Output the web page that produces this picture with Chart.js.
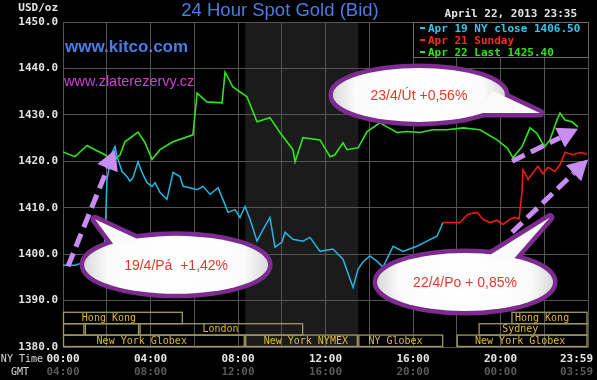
<!DOCTYPE html>
<html>
<head>
<meta charset="utf-8">
<script src="https://cdn.jsdelivr.net/npm/chart.js@4.4.1/dist/chart.umd.min.js"></script>
<style>
  html, body { margin: 0; padding: 0; background: #000; }
</style>
</head>
<body>
<canvas id="chart" width="597" height="380"></canvas>
<script>
// x = hours of the day (NY time), y = USD/oz

const seriesNames = ['Apr 19 NY close 1406.50', 'Apr 21 Sunday', 'Apr 22 Last 1425.40'];

const apr19Hours = [0, 0.55, 1.01, 1.46, 1.83, 1.92, 2.01, 2.24, 2.38, 2.47, 2.70, 2.93, 3.06, 3.20, 3.43, 3.61,
  3.84, 4.07, 4.21, 4.43, 4.75, 5.03, 5.35, 5.49, 5.81, 6.13, 6.40, 6.72, 7.09, 7.31, 7.54, 7.86, 8.09, 8.32,
  8.55, 8.87, 9.10, 9.46, 9.69, 10.01, 10.15, 10.51, 10.97, 11.29, 11.75, 12.34, 12.80, 13.26, 13.49, 13.71,
  14.03, 14.35, 14.63, 15.09, 15.54, 16.18, 16.64, 17.10, 17.37];
const apr19Prices = [1397.6, 1397.6, 1398.3, 1397.8, 1398.3, 1403.2, 1416.1, 1421.9, 1423.2, 1421.0, 1417.8,
  1416.7, 1415.7, 1416.5, 1419.9, 1417.6, 1415.4, 1414.6, 1415.4, 1413.3, 1411.8, 1417.6, 1416.7, 1414.6, 1414.3,
  1413.9, 1414.6, 1412.9, 1414.3, 1411.8, 1409.0, 1409.6, 1407.9, 1410.3, 1407.5, 1402.8, 1404.9, 1407.9, 1401.5,
  1402.6, 1404.7, 1403.2, 1402.8, 1403.6, 1400.6, 1401.1, 1398.9, 1392.8, 1396.8, 1398.3, 1399.6, 1398.5, 1397.2,
  1401.7, 1400.6, 1401.7, 1402.8, 1403.9, 1406.8];

const apr21Hours = [17.37, 18.15, 18.51, 18.93, 19.20, 19.52, 19.84, 20.11, 20.43, 20.66, 20.85, 20.98, 21.03,
  21.26, 21.49, 21.71, 21.94, 22.17, 22.49, 22.72, 22.95, 23.31, 23.63, 23.95];
const apr21Prices = [1406.8, 1406.8, 1408.6, 1409.0, 1407.5, 1406.8, 1407.3, 1406.4, 1407.5, 1407.9, 1407.6,
  1413.3, 1418.2, 1416.1, 1417.6, 1418.9, 1417.3, 1418.7, 1417.8, 1419.3, 1421.9, 1421.4, 1421.9, 1421.6];

const apr22Hours = [0, 0.55, 1.10, 1.46, 1.92, 2.29, 2.61, 2.83, 3.43, 3.75, 4.07, 4.43, 5.03, 5.94, 6.13, 6.58,
  7.27, 7.41, 7.77, 8.41, 8.87, 9.46, 9.92, 10.51, 10.61, 10.97, 11.75, 12.21, 12.43, 12.80, 12.98, 13.49, 13.90,
  14.49, 14.81, 15.27, 15.73, 16.32, 16.91, 17.55, 18.29, 19.06, 19.84, 20.30, 20.57, 20.98, 21.35, 21.67, 21.90,
  22.03, 22.26, 22.58, 22.72, 22.95, 23.27, 23.54];
const apr22Prices = [1422.0, 1421.0, 1423.4, 1422.5, 1421.4, 1419.9, 1421.4, 1424.2, 1426.3, 1424.0, 1420.4,
  1422.5, 1424.2, 1425.7, 1434.7, 1432.8, 1432.6, 1439.2, 1436.0, 1433.9, 1428.5, 1429.4, 1426.2, 1422.5, 1419.9,
  1425.1, 1424.6, 1421.0, 1421.4, 1424.0, 1422.5, 1422.9, 1426.4, 1428.3, 1427.4, 1426.2, 1426.4, 1426.2, 1426.8,
  1426.8, 1427.2, 1426.8, 1424.6, 1422.9, 1420.8, 1423.1, 1427.2, 1426.0, 1424.0, 1423.2, 1424.6, 1428.9, 1430.4,
  1428.9, 1428.5, 1427.4];

// axis labels
const tickHours = [0, 4, 8, 12, 16, 20, 24];
const nyTimeLabels = ['00:00', '04:00', '08:00', '12:00', '16:00', '20:00', '23:59'];
const gmtLabels = ['04:00', '08:00', '12:00', '16:00', '20:00', '00:00', '03:59'];

// COMEX floor hours (shaded)
const comexOpen = 8.33;
const comexClose = 13.5;

// market sessions strip
const sessionNames = ['Hong Kong', '', '', 'London', 'New York Globex', 'New York NYMEX', 'NY Globex',
  'New York Globex', 'Sydney', 'Hong Kong'];
const sessionRows = [0, 1, 1, 1, 2, 2, 2, 2, 1, 0];
const sessionStart = [0, 0, 1, 3.5, 0, 8.33, 13.5, 18, 19, 20.5];
const sessionEnd = [5.5, 1, 3.5, 11, 8.33, 13.5, 17.4, 24, 24, 24];
const sessionLabelAt = [2.1, 0.5, 2.25, 7.2, 3.6, 11.1, 15.2, 20.9, 20.9, 21.9];

// callouts added on top of the chart
const calloutTexts = ['19/4/Pá  +1,42%', '23/4/Út +0,56%', '22/4/Po + 0,85%'];
const calloutHour = [5.17, 16.27, 18.38];
const calloutPrice = [1397.7, 1434.3, 1394.0];
const calloutTipHour = [1.46, 21.8, 22.26];
const calloutTipPrice = [1407.5, 1430.4, 1407.9];

const arrowFromHour = [0.23, 20.53, 20.53];
const arrowFromPrice = [1397.4, 1420.0, 1404.7];
const arrowToHour = [2.38, 23.54, 24.0];
const arrowToPrice = [1422.5, 1427.0, 1420.4];

function toPoints(hours, prices) {
  return hours.map((h, i) => ({ x: h, y: prices[i] }));
}

const MONO = '"DejaVu Sans Mono", monospace';
const SANS = '"Liberation Sans", Arial, sans-serif';
const gridColor = '#545454';

// bubble outline sizes (px) and tail base offsets from the centre
const bubbleShapes = [
  { rx: 92, ry: 29, b1: [-35, -24], b2: [-60, -17] },
  { rx: 86, ry: 27, b1: [74, -4], b2: [56, 18] },
  { rx: 88, ry: 29, b1: [20, -24], b2: [46, -20] }
];

function drawBubble(ctx, cx, cy, shape, tx, ty, text) {
  const { rx, ry, b1, b2 } = shape;
  const tail = () => {
    ctx.beginPath();
    ctx.moveTo(cx + b1[0], cy + b1[1]);
    ctx.lineTo(tx, ty);
    ctx.lineTo(cx + b2[0], cy + b2[1]);
    ctx.closePath();
  };
  const oval = () => {
    ctx.beginPath();
    ctx.ellipse(cx, cy, rx, ry, 0, 0, Math.PI * 2);
  };
  ctx.save();
  ctx.lineJoin = 'round';
  ctx.strokeStyle = '#7c2b8e';
  ctx.lineWidth = 9;
  oval(); ctx.stroke();
  tail(); ctx.stroke();
  const g = ctx.createRadialGradient(cx, cy - ry * 0.3, 0, cx, cy, rx);
  g.addColorStop(0, '#ffffff');
  g.addColorStop(0.75, '#fbfbfb');
  g.addColorStop(1, '#d9d9d9');
  ctx.fillStyle = g;
  oval(); ctx.fill();
  ctx.fillStyle = '#fafafa';
  tail(); ctx.fill();
  ctx.fillStyle = '#e23a28';
  ctx.font = '14px ' + SANS;
  ctx.textAlign = 'center';
  ctx.textBaseline = 'middle';
  ctx.fillText(text, cx, cy + 1);
  ctx.restore();
}

function drawArrow(ctx, xa, ya, xb, yb) {
  const ang = Math.atan2(yb - ya, xb - xa);
  const headLen = 20, headW = 11;
  const bx = xb - headLen * Math.cos(ang);
  const by = yb - headLen * Math.sin(ang);
  ctx.save();
  ctx.strokeStyle = '#c98cf2';
  ctx.fillStyle = '#c98cf2';
  ctx.lineWidth = 5;
  ctx.setLineDash([14, 7]);
  ctx.beginPath();
  ctx.moveTo(xa, ya);
  ctx.lineTo(bx, by);
  ctx.stroke();
  ctx.setLineDash([]);
  ctx.beginPath();
  ctx.moveTo(xb, yb);
  ctx.lineTo(bx + headW * Math.sin(ang), by - headW * Math.cos(ang));
  ctx.lineTo(bx - headW * Math.sin(ang), by + headW * Math.cos(ang));
  ctx.closePath();
  ctx.fill();
  ctx.restore();
}

const kitcoPlugin = {
  id: 'kitco',
  beforeDraw(chart) {
    const { ctx, chartArea: a, scales: { x } } = chart;
    ctx.save();
    ctx.fillStyle = '#000';
    ctx.fillRect(0, 0, chart.width, chart.height);
    const x0 = x.getPixelForValue(comexOpen);
    const x1 = x.getPixelForValue(comexClose);
    ctx.fillStyle = '#1b1b1b';
    ctx.fillRect(x0, a.top, x1 - x0, a.bottom - a.top);
    ctx.restore();
  },
  afterDatasetsDraw(chart) {
    const { ctx, chartArea: a, scales: { x } } = chart;
    ctx.save();

    // sessions strip along the bottom
    const rowH = 11.4;
    const base = a.bottom - 1;
    ctx.font = '10px ' + MONO;
    ctx.textAlign = 'center';
    ctx.textBaseline = 'middle';
    sessionNames.forEach((name, i) => {
      const top = base - (3 - sessionRows[i]) * rowH;
      const xs = x.getPixelForValue(sessionStart[i]);
      const xe = x.getPixelForValue(sessionEnd[i]);
      ctx.strokeStyle = '#a1985f';
      ctx.lineWidth = 1.3;
      ctx.strokeRect(xs + 0.5, top + 0.5, xe - xs - 1.5, rowH);
      if (name) {
        ctx.fillStyle = '#e2b934';
        ctx.fillText(name, x.getPixelForValue(sessionLabelAt[i]), top + rowH / 2 + 1);
      }
    });

    // legend box in the top right corner
    const lw = 175, lh = 35;
    const lx = a.right - lw, ly = a.top;
    ctx.fillStyle = '#000';
    ctx.fillRect(lx, ly, lw, lh);
    ctx.strokeStyle = '#6a6a6a';
    ctx.lineWidth = 1;
    ctx.strokeRect(lx + 0.5, ly + 0.5, lw, lh);
    ctx.font = 'bold 11px ' + MONO;
    ctx.textAlign = 'left';
    chart.data.datasets.forEach((ds, i) => {
      const yy = ly + 6 + i * 12;
      ctx.fillStyle = ds.legendColor;
      ctx.fillRect(lx + 7, yy - 1, 5, 2);
      ctx.fillText(ds.label, lx + 15, yy + 1);
    });
    ctx.restore();
  },
  afterDraw(chart) {
    const { ctx, chartArea: a, scales: { x, y } } = chart;
    ctx.save();
    ctx.textBaseline = 'middle';

    ctx.fillStyle = '#4b7de6';
    ctx.font = '18.5px ' + SANS;
    ctx.textAlign = 'center';
    ctx.fillText('24 Hour Spot Gold (Bid)', 280, 11);

    ctx.fillStyle = '#e4e4e4';
    ctx.font = 'bold 11px ' + MONO;
    ctx.textAlign = 'right';
    ctx.fillText('USD/oz', a.left - 5, 8);
    ctx.fillText('April 22, 2013 23:35', a.right - 11, 14);

    ctx.textAlign = 'left';
    ctx.fillStyle = '#4b7de6';
    ctx.font = 'bold 17px ' + SANS;
    ctx.fillText('www.kitco.com', a.left + 2, 47);
    ctx.fillStyle = '#d13fd4';
    ctx.font = '14.5px ' + SANS;
    ctx.fillText('www.zlaterezervy.cz', a.left + 1, 82);

    // time labels, NY time and GMT
    ctx.font = '10px ' + MONO;
    ctx.textAlign = 'right';
    ctx.fillStyle = '#d8d8d8';
    ctx.fillText('NY Time', 43, a.bottom + 12);
    ctx.textAlign = 'center';
    ctx.fillText('GMT', 20, a.bottom + 25);
    ctx.font = 'bold 11px ' + MONO;
    tickHours.forEach((h, i) => {
      const w = ctx.measureText(nyTimeLabels[i]).width;
      const px = Math.min(x.getPixelForValue(h), chart.width - 4 - w / 2);
      ctx.fillStyle = '#e8e8e8';
      ctx.fillText(nyTimeLabels[i], px, a.bottom + 12);
      ctx.fillStyle = '#5a5a5a';
      ctx.fillText(gmtLabels[i], px, a.bottom + 25);
    });

    calloutTexts.forEach((t, i) => {
      drawBubble(ctx,
        x.getPixelForValue(calloutHour[i]), y.getPixelForValue(calloutPrice[i]),
        bubbleShapes[i],
        x.getPixelForValue(calloutTipHour[i]), y.getPixelForValue(calloutTipPrice[i]),
        t);
    });
    arrowFromHour.forEach((h, i) => {
      drawArrow(ctx,
        x.getPixelForValue(h), y.getPixelForValue(arrowFromPrice[i]),
        x.getPixelForValue(arrowToHour[i]), y.getPixelForValue(arrowToPrice[i]));
    });
    ctx.restore();
  }
};

new Chart(document.getElementById('chart'), {
  type: 'line',
  data: {
    datasets: [
      {
        label: seriesNames[0],
        data: toPoints(apr19Hours, apr19Prices),
        borderColor: '#22b8e4',
        legendColor: '#35c6ef',
        borderWidth: 1.5
      },
      {
        label: seriesNames[1],
        data: toPoints(apr21Hours, apr21Prices),
        borderColor: '#ee1a12',
        legendColor: '#ff2a1a',
        borderWidth: 1.6
      },
      {
        label: seriesNames[2],
        data: toPoints(apr22Hours, apr22Prices),
        borderColor: '#2ee61a',
        legendColor: '#2ee61a',
        borderWidth: 1.6
      }
    ]
  },
  options: {
    responsive: false,
    animation: false,
    layout: { padding: { top: 22, right: 9, bottom: 33, left: 0 } },
    elements: { point: { radius: 0 }, line: { tension: 0 } },
    scales: {
      x: {
        type: 'linear',
        min: 0,
        max: 24,
        ticks: { stepSize: 2, display: false },
        grid: { color: gridColor, drawTicks: false },
        border: { color: gridColor }
      },
      y: {
        min: 1380,
        max: 1450,
        ticks: {
          stepSize: 10,
          padding: 5,
          color: '#e4e4e4',
          font: { family: 'DejaVu Sans Mono', size: 11, weight: 'bold' },
          callback: v => v.toFixed(1)
        },
        grid: { color: gridColor, drawTicks: false },
        border: { color: gridColor },
        afterFit: s => { s.width = 63; }
      }
    },
    plugins: {
      legend: { display: false },
      tooltip: { enabled: false },
      title: { display: false }
    }
  },
  plugins: [kitcoPlugin]
});
</script>
</body>
</html>
